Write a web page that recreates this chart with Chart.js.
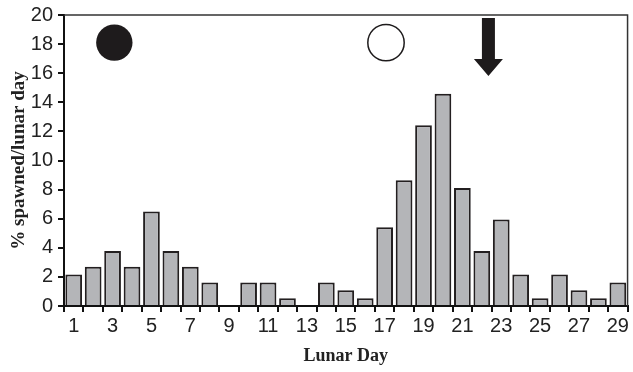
<!DOCTYPE html>
<html>
<head>
<meta charset="utf-8">
<script src="https://cdn.jsdelivr.net/npm/chart.js@4"></script>
<style>
  html, body { margin: 0; padding: 0; background: #fff; }
  #wrap { width: 633px; height: 372px; }
</style>
</head>
<body>
<div id="wrap"><canvas id="chart"></canvas></div>
<script>
// lunar days 1..29 and % spawned per lunar day
const days = [1,2,3,4,5,6,7,8,9,10,11,12,13,14,15,16,17,18,19,20,21,22,23,24,25,26,27,28,29];
const spawned = [2.16,2.7,3.78,2.7,6.49,3.78,2.7,1.62,0,1.62,1.62,0.54,0,1.62,1.08,0.54,
                 5.41,8.65,12.43,14.59,8.11,3.78,5.95,2.16,0.54,2.16,1.08,0.54,1.62];
const yTicks = [0,2,4,6,8,10,12,14,16,18,20];

// moon phase symbols + arrow (lunar day, % value)
const moonDays = [3.09, 17.07];
const moonFilled = [true, false];
const moonLevel = 18.1;
const arrowDay = 22.34;
const arrowTop = 19.8, arrowTip = 15.8;

const FONT_TICK = "'Liberation Sans', Arial, sans-serif";
const FONT_TITLE = "'Liberation Serif', 'Times New Roman', serif";

// frame (top/right) + moon symbols + arrow
const overlay = {
  id: "overlay",
  afterDatasetsDraw(chart) {
    const { ctx, chartArea: a, scales: { x, y } } = chart;
    ctx.save();
    ctx.strokeStyle = "#333";
    ctx.lineWidth = 1.5;
    ctx.beginPath();
    ctx.moveTo(a.left, a.top);
    ctx.lineTo(a.right, a.top);
    ctx.lineTo(a.right, a.bottom);
    ctx.stroke();

    const r = Math.abs(y.getPixelForValue(0) - y.getPixelForValue(1.25));
    moonDays.forEach((d, i) => {
      const cx = x.getPixelForValue(d - 1);
      const cy = y.getPixelForValue(moonLevel);
      ctx.beginPath();
      ctx.arc(cx, cy, r, 0, Math.PI * 2);
      if (moonFilled[i]) {
        ctx.fillStyle = "#1e1b1c";
        ctx.fill();
      } else {
        ctx.strokeStyle = "#1e1b1c";
        ctx.lineWidth = 1.5;
        ctx.stroke();
      }
    });

    // arrow
    const ax = x.getPixelForValue(arrowDay - 1);
    const top = y.getPixelForValue(arrowTop);
    const tip = y.getPixelForValue(arrowTip);
    const headH = 17, shaftW = 6.5, headW = 14.5;
    ctx.fillStyle = "#1e1b1c";
    ctx.beginPath();
    ctx.moveTo(ax - shaftW, top);
    ctx.lineTo(ax + shaftW, top);
    ctx.lineTo(ax + shaftW, tip - headH);
    ctx.lineTo(ax + headW, tip - headH);
    ctx.lineTo(ax, tip);
    ctx.lineTo(ax - headW, tip - headH);
    ctx.lineTo(ax - shaftW, tip - headH);
    ctx.closePath();
    ctx.fill();
    ctx.restore();
  }
};

new Chart(document.getElementById("chart"), {
  type: "bar",
  data: {
    labels: days,
    datasets: [{
      data: spawned,
      backgroundColor: "#b4b5b8",
      borderColor: "#231f20",
      borderWidth: 2,
      borderSkipped: "start",
      barPercentage: 0.86,
      categoryPercentage: 1
    }]
  },
  options: {
    responsive: true,
    maintainAspectRatio: false,
    animation: false,
    layout: { padding: { top: 12, right: 2, left: 0, bottom: 0 } },
    plugins: { legend: { display: false }, tooltip: { enabled: false } },
    scales: {
      x: {
        grid: { offset: true, drawOnChartArea: false, tickLength: 6, color: "#111", lineWidth: 2 },
        border: { color: "#111", width: 2 },
        ticks: {
          autoSkip: false, maxRotation: 0, color: "#222", padding: 4,
          font: { family: FONT_TICK, size: 20, lineHeight: 1 },
          callback: (v, i) => (i % 2 === 0 ? days[i] : "")
        },
        title: {
          display: true, text: "Lunar Day", color: "#222",
          font: { family: FONT_TITLE, size: 18, weight: "bold" },
          padding: { top: 0, bottom: 5 }
        },
        afterFit: s => { s.height = 66; }
      },
      y: {
        min: 0, max: 20,
        afterBuildTicks: s => { s.ticks = yTicks.map(v => ({ value: v })); },
        grid: { drawOnChartArea: false, tickLength: 6, color: "#111", lineWidth: 2 },
        border: { color: "#111", width: 2 },
        ticks: { color: "#222", padding: 5, font: { family: FONT_TICK, size: 20, lineHeight: 1 } },
        title: {
          display: true, text: "% spawned/lunar day", color: "#222",
          font: { family: FONT_TITLE, size: 19, weight: "bold" },
          padding: { top: 8, bottom: 0 }
        },
        afterFit: s => { s.width = 64; }
      }
    }
  },
  plugins: [overlay]
});
</script>
</body>
</html>
